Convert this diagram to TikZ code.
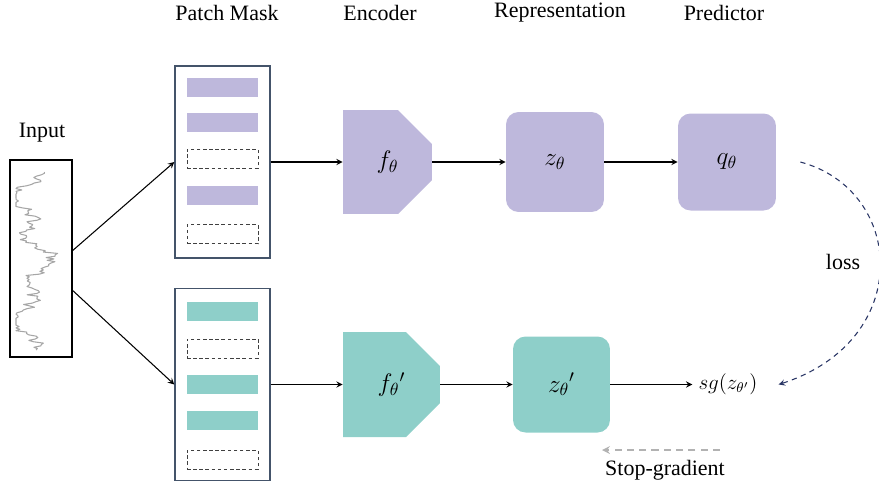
\documentclass[tikz,border=0pt]{standalone}
\usepackage{fontspec}
\setmainfont{Liberation Serif}
\usetikzlibrary{arrows, positioning}
\definecolor{purpleC}{RGB}{190,184,220}
\definecolor{tealC}{RGB}{142,207,201}
\definecolor{maskEdge}{RGB}{68,84,106}
\definecolor{lossC}{RGB}{40,52,100}

\begin{document}
\begin{tikzpicture}[x=0.02cm, y=-0.02cm]
		\tikzstyle{Title} = [font=\fontsize{12.5}{14}\selectfont]
		\tikzstyle{Mask} = [rectangle, minimum width=1.9cm, minimum height=3.84cm, draw=maskEdge, line width=0.8pt]
		\tikzstyle{Bar} = [rectangle, minimum width=1.42cm, minimum height=0.38cm, inner sep=0pt]
		\tikzstyle{EmptyBar} = [Bar, draw=black!75, line width=0.5pt, dash pattern=on 2pt off 1.5pt]
		\tikzstyle{Rep} = [rectangle, rounded corners=0.25cm, minimum width=1.96cm, minimum height=2cm, font=\Large]
		\tikzstyle{arrow} = [semithick,->,>=stealth]
		\tikzset{Enc/.style={rectangle, inner sep=0pt, font=\Large,
				path picture={\fill[#1] (path picture bounding box.north west)
					-- ([xshift=-0.68cm]path picture bounding box.north east)
					-- ([yshift=-0.68cm]path picture bounding box.north east)
					-- ([yshift=0.68cm]path picture bounding box.south east)
					-- ([xshift=-0.68cm]path picture bounding box.south east)
					-- (path picture bounding box.south west) -- cycle;}}}
		
		\useasboundingbox (0,0) rectangle (879,488);
		
		% titles
		\node (tMask) [Title] at (227,13) {Patch Mask};
		\node (tEnc) [Title] at (380,13) {Encoder};
		\node (tRep) [Title] at (560,13) {Representation};
		\node (tPred) [Title] at (724,13) {Predictor};
		
		% input series
		\node (tIn) [Title] at (42,133) {Input};
		\node (input) [rectangle, draw, line width=0.8pt, minimum width=1.24cm, minimum height=3.94cm] at (41,258.5) {};
		\pgfmathsetseed{11}
		\draw[gray!70, line width=0.6pt, line join=round] plot[domain=172:350, samples=130] ({max(16, min(68, 32 + 12*sin(3.1*\x) + 10*sin(8.7*\x) + 5*rand + 4*sin(40*\x)))}, \x);
		
		% patch masks
		\node (mask1) [Mask] at (222.5,162) {};
		\node (b11) [Bar, fill=purpleC, below=0.24cm of mask1.north] {};
		\node (b12) [Bar, fill=purpleC, below=0.32cm of b11] {};
		\node (b13) [EmptyBar, below=0.32cm of b12] {};
		\node (b14) [Bar, fill=purpleC, below=0.34cm of b13] {};
		\node (b15) [EmptyBar, below=0.38cm of b14] {};
		
		\node (mask2) [Mask] at (222.5,384.5) {};
		\node (b21) [Bar, fill=tealC, below=0.28cm of mask2.north] {};
		\node (b22) [EmptyBar, below=0.34cm of b21] {};
		\node (b23) [Bar, fill=tealC, below=0.32cm of b22] {};
		\node (b24) [Bar, fill=tealC, below=0.34cm of b23] {};
		\node (b25) [EmptyBar, below=0.38cm of b24] {};
		
		% encoders, representations
		\node (enc1) [Enc=purpleC, minimum width=1.78cm, minimum height=2.08cm] at (387.5,162) {$f_\theta$};
		\node (enc2) [Enc=tealC, minimum width=1.94cm, minimum height=2.1cm] at (391.5,384.5) {$f_\theta{}'$};
		\node (z1) [Rep, fill=purpleC] at (555,162) {$z_\theta$};
		\node (q1) [Rep, fill=purpleC, minimum height=1.94cm] at (727,162) {$q_\theta$};
		\node (z2) [Rep, fill=tealC, minimum width=1.94cm, minimum height=1.92cm] at (561.5,384.5) {$z_\theta{}'$};
		\node (sg) [font=\large] at (728,384.5) {$sg(z_{\theta'})$};
		
		\draw[arrow] ([yshift=0.16cm]input.east) -- (mask1.west);
		\draw[arrow] ([yshift=-0.64cm]input.east) -- (mask2.west);
		\draw[arrow] (mask1.east) -- (enc1.west);
		\draw[arrow] (mask2.east) -- (enc2.west);
		\draw[arrow] (enc1.east) -- (z1.west);
		\draw[arrow] (enc2.east) -- (z2.west);
		\draw[arrow] (z1.east) -- (q1.east -| q1.west);
		\draw[arrow] (z2.east) -- (sg.west);
		
		% loss
		\draw[lossC, semithick, dash pattern=on 3pt off 2.5pt, ->, >=stealth] ([xshift=0.48cm]q1.east) .. controls (905,190) and (915,340) .. ([xshift=0.3cm]sg.east);
		\node (loss) [Title] at (843,262) {loss};
		
		% stop-gradient
		\coordinate (sgFrom) at (720,450);
		\coordinate (sgTo) at (602,450);
		\draw[gray!60, line width=1pt, dash pattern=on 4pt off 3pt, ->, >=stealth] (sgFrom) -- (sgTo);
		\node (sgText) [Title] at (665,470) {Stop-gradient};
\end{tikzpicture}
\end{document}
